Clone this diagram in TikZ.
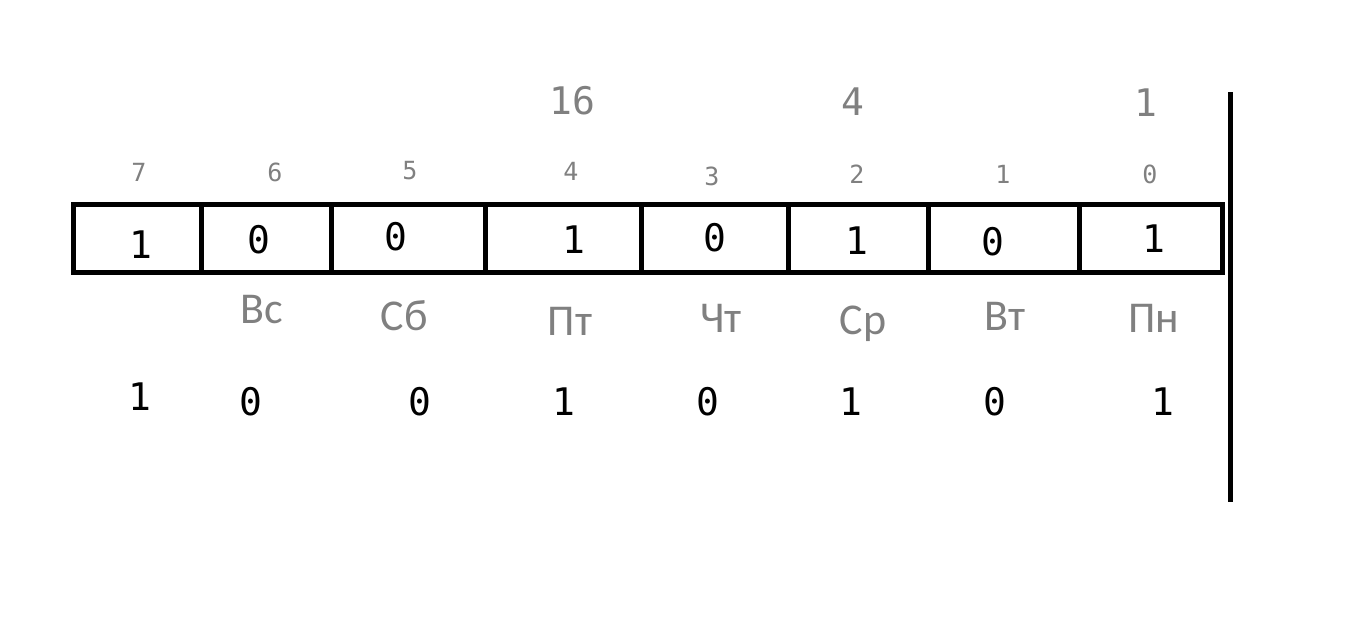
\documentclass[tikz,border=0pt]{standalone}
\usepackage{fontspec}
\setmainfont{Carlito}
\newfontfamily\monof{DejaVu Sans Mono}
\definecolor{lbl}{RGB}{128,128,128}
\begin{document}
\begin{tikzpicture}[x=1pt,y=-1pt,
  bit/.style={font=\monof\fontsize{38}{38}\selectfont, text=black, inner sep=0pt},
  idx/.style={font=\monof\fontsize{25}{25}\selectfont, text=lbl, inner sep=0pt},
  wgt/.style={font=\monof\fontsize{38}{38}\selectfont, text=lbl, inner sep=0pt},
  day/.style={font=\fontsize{44}{44}\selectfont, text=lbl, inner sep=0pt},
  frame/.style={draw=black, line width=5pt}]
\useasboundingbox (0,0) rectangle (1372,626);
% register
\draw[frame] (73,204) rectangle (1222,272);
\foreach \x in {201,331,485,641,788,928,1079}
  \draw[frame] (\x,204) -- (\x,272);
% right bar
\coordinate (bt) at (1230,92);
\coordinate (bb) at (1230,502);
\draw[line width=5pt] (bt) -- (bb);
% weights
\node[wgt] (w16) at (572,101) {16};
\node[wgt] (w4) at (853,102) {4};
\node[wgt] (w1) at (1146,103) {1};
% indices
\node[idx] (i7) at (139,172) {7};
\node[idx] (i6) at (275,172) {6};
\node[idx] (i5) at (410,171) {5};
\node[idx] (i4) at (571,171) {4};
\node[idx] (i3) at (712,176) {3};
\node[idx] (i2) at (857,174) {2};
\node[idx] (i1) at (1003,174) {1};
\node[idx] (i0) at (1150,174) {0};
% bits in cells
\node[bit] (c7) at (141,245) {1};
\node[bit] (c6) at (259,240) {0};
\node[bit] (c5) at (396,237) {0};
\node[bit] (c4) at (574,240) {1};
\node[bit] (c3) at (715,238) {0};
\node[bit] (c2) at (857,241) {1};
\node[bit] (c1) at (993,242) {0};
\node[bit] (c0) at (1154,239) {1};
% days
\node[day] (d6) at (262,310) {Вс};
\node[day] (d5) at (404,316) {Сб};
\node[day] (d4) at (570,321) {Пт};
\node[day] (d3) at (721,318) {Чт};
\node[day] (d2) at (863,324) {Ср};
\node[day] (d1) at (1005,316) {Вт};
\node[day] (d0) at (1154,318) {Пн};
% bottom row
\node[bit] (b7) at (140,397) {1};
\node[bit] (b6) at (251,402) {0};
\node[bit] (b5) at (420,402) {0};
\node[bit] (b4) at (564,402) {1};
\node[bit] (b3) at (708,402) {0};
\node[bit] (b2) at (851,402) {1};
\node[bit] (b1) at (995,402) {0};
\node[bit] (b0) at (1163,402) {1};
\end{tikzpicture}
\end{document}
